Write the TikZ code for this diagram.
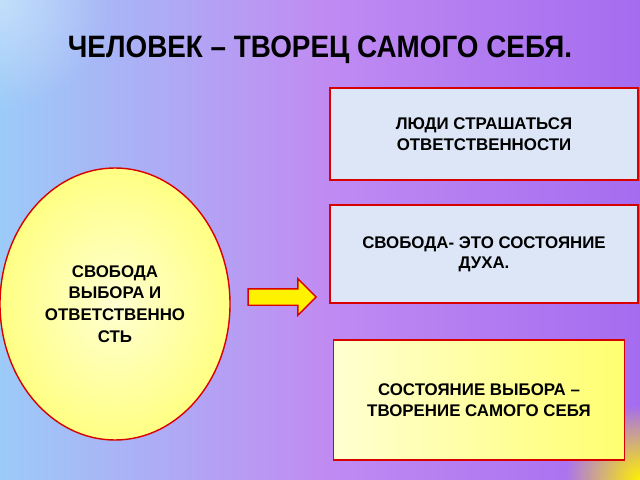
\documentclass[tikz,border=0pt]{standalone}
\usepackage{fontspec}
\setmainfont{Liberation Sans}
\usepackage{tikz}
\usetikzlibrary{shapes.arrows,shapes.geometric,fadings}

\definecolor{skyblue}{HTML}{9CCBF8}
\definecolor{lilac}{HTML}{C08CF2}
\definecolor{violet}{HTML}{A56CF0}
\definecolor{boxblue}{HTML}{DCE6F6}
\definecolor{paleyellow}{HTML}{FFFFD2}
\definecolor{brightyellow}{HTML}{FFFF70}

\tikzfading[name=glowout, inner color=transparent!0, outer color=transparent!100]

\newlength{\px}
\setlength{\px}{0.025cm}
\tikzset{
  redline/.style={draw=red!85!black, line width=1pt},
  textbox/.style={redline, fill=boxblue, minimum width=308\px, minimum height=92\px,
    align=center, font=\bfseries\fontsize{12}{14.5}\selectfont},
}

\begin{document}
\begin{tikzpicture}[x=0.025cm,y=-0.025cm]
    \useasboundingbox (0,0) rectangle (640,480);
    % background
    \shade[left color=skyblue, right color=violet, middle color=lilac] (0,0) rectangle (640,480);
    \fill[white, path fading=glowout, opacity=0.4] (0,0) circle (110);
    \fill[yellow, path fading=glowout] (640,480) circle (75);
    
    \node[font=\bfseries\fontsize{22}{24}\selectfont, xscale=0.9] (title) at (320,50) {ЧЕЛОВЕК – ТВОРЕЦ САМОГО СЕБЯ.};
    
    \node[ellipse, redline, inner color=paleyellow, outer color=brightyellow!80!paleyellow,
          minimum width=230\px, minimum height=272\px, align=center,
          font=\bfseries\fontsize{12}{15.5}\selectfont] (freedom) at (115,304)
          {СВОБОДА\\ВЫБОРА И\\ОТВЕТСТВЕННО\\СТЬ};
    
    \node[single arrow, draw=red!85!black, line width=1pt, fill=yellow, minimum height=68\px,
          text height=15\px, text depth=0pt, inner sep=0pt, minimum width=35\px,
          single arrow head extend=10\px] (arrow) at (278,297) {};
    
    \node[textbox] (fear) at (484,134) {ЛЮДИ СТРАШАТЬСЯ\\ОТВЕТСТВЕННОСТИ};
    \node[textbox, minimum height=98\px] (spirit) at (484,254) {СВОБОДА- ЭТО СОСТОЯНИЕ\\ДУХА.};
    \node[textbox, left color=paleyellow, right color=brightyellow, minimum width=291\px,
          minimum height=120\px] (choice) at (479,400) {СОСТОЯНИЕ ВЫБОРА –\\ТВОРЕНИЕ САМОГО СЕБЯ};
\end{tikzpicture}
\end{document}
